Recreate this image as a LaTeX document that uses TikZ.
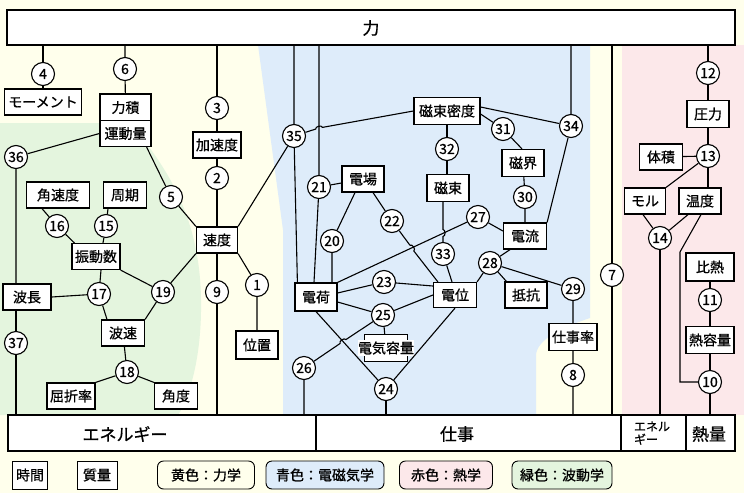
\documentclass[tikz,border=0pt]{standalone}
\usepackage{fontspec}
\setmainfont{Noto Sans CJK JP}[FakeBold=0.8]
\usetikzlibrary{calc}

\definecolor{bgyellow}{RGB}{255,255,236}
\definecolor{bggreen}{RGB}{228,245,222}
\definecolor{bgblue}{RGB}{222,236,250}
\definecolor{bgpink}{RGB}{252,232,234}

\begin{document}
\begin{tikzpicture}[x=1pt, y=1pt,
    box/.style={draw, line width=1.2pt, fill=white, inner sep=0pt, minimum height=26, font=\fontsize{14}{16}\selectfont},
    num/.style={draw, circle, line width=1.1pt, fill=white, inner sep=0pt, minimum size=23, font=\fontsize{14}{16}\selectfont},
    link/.style={line width=1.1pt},
    bar/.style={draw, line width=1.2pt, fill=white, inner sep=0pt, minimum height=36},
    bartext/.style={inner sep=0pt, font=\fontsize{17}{19}\selectfont},
    legend/.style={draw, line width=0.9pt, rounded corners=6, inner sep=0pt, minimum height=28, font=\fontsize{14}{16}\selectfont}]
    \useasboundingbox (0,0) rectangle (744,-493);

    % ==========================================
    % Background: coloured fields
    % ==========================================
    \fill[bgyellow] (0,0) rectangle (744,-493);
    \fill[bggreen] (0,-123) -- (130,-123) .. controls (165,-165) and (200,-215) .. (201,-300)
        .. controls (202,-360) and (188,-400) .. (178,-415) -- (0,-415) -- cycle;
    \fill[bgblue] (258,-45) -- (590,-45) -- (590,-318) .. controls (560,-328) and (537,-340) .. (536,-355)
        -- (536,-415) -- (283,-415) -- (283,-230) -- cycle;
    \fill[bgpink] (622,-45) rectangle (744,-415);

    % ==========================================
    % Top and bottom bars
    % ==========================================
    \node[bar, minimum width=728, minimum height=35] (top) at (371,-27.5) {};
    \node[bartext] (toplabel) at (371,-28) {力};

    \node[bar, minimum width=308] (e1) at (162,-433) {};
    \node[bar, minimum width=305] (work) at (468.5,-433) {};
    \node[bar, minimum width=65] (e2) at (653.5,-433) {};
    \node[bar, minimum width=49] (heat) at (710.5,-433) {};
    \node[bartext] (e1label) at (125,-434) {エネルギー};
    \node[bartext] (worklabel) at (457,-434) {仕事};
    \node[inner sep=0pt, align=left, font=\fontsize{12}{13}\selectfont] (e2label) at (652,-433) {エネル\\ギー};
    \node[bartext] (heatlabel) at (709,-434) {熱量};

    % ==========================================
    % Mechanics / waves (left)
    % ==========================================
    \node[box, minimum width=77] (moment) at (43,-102) {モーメント};
    \node[box, minimum width=51, minimum height=27] (rikiseki) at (125.5,-107.5) {力積};
    \node[box, minimum width=51] (undou) at (125.5,-133.5) {運動量};
    \node[box, minimum width=48] (kasokudo) at (217,-145) {加速度};
    \node[box, minimum width=41] (sokudo) at (217,-240) {速度};
    \node[box, minimum width=63] (kakusoku) at (58,-195) {角速度};
    \node[box, minimum width=43] (shuki) at (125,-195) {周期};
    \node[box, minimum width=48] (shindou) at (96,-256.5) {振動数};
    \node[box, minimum width=48] (hachou) at (27,-297) {波長};
    \node[box, minimum width=43] (hasoku) at (123,-333) {波速};
    \node[box, minimum width=48] (kussetsu) at (71,-396) {屈折率};
    \node[box, minimum width=43] (kakudo) at (176,-396) {角度};
    \node[box, minimum width=42, minimum height=28] (ichi) at (257,-345) {位置};

    \node[num] (n4) at (43,-74) {4};
    \node[num] (n6) at (125,-69) {6};
    \node[num] (n3) at (217,-108) {3};
    \node[num] (n2) at (217,-178) {2};
    \node[num] (n5) at (171,-197) {5};
    \node[num] (n36) at (16,-157) {36};
    \node[num] (n16) at (57,-226) {16};
    \node[num] (n15) at (106,-226) {15};
    \node[num] (n17) at (99,-294) {17};
    \node[num] (n19) at (163,-292) {19};
    \node[num] (n18) at (127,-372) {18};
    \node[num] (n37) at (16,-343) {37};
    \node[num] (n9) at (217,-292) {9};
    \node[num] (n1) at (257,-285) {1};

    \draw[link] (n4 |- top.south) -- (n4) -- (moment);
    \draw[link] (n6 |- top.south) -- (n6) -- (rikiseki);
    \draw[link] (n3 |- top.south) -- (n3) -- (kasokudo) -- (n2) -- (sokudo);
    \draw[link] ([xshift=-5]undou.south east) -- (n5) -- (sokudo.north west);
    \draw[link] (undou.west) -- (n36) -- (n36 |- hachou.north);
    \draw[link] (n36 |- hachou.south) -- (n37) -- (n37 |- e1.north);
    \draw[link] ([xshift=-16]kakusoku.south) -- (n16) -- ([xshift=3]shindou.north west);
    \draw[link] ([xshift=-17]shuki.south) -- (n15) -- ([xshift=7]shindou.north);
    \draw[link] (hachou.east) -- (n17) -- ([xshift=-16]hasoku.north);
    \draw[link] ([xshift=5]shindou.south) -- (n17);
    \draw[link] (shindou.south east) -- (n19) -- (sokudo.south west);
    \draw[link] (hasoku.north east) -- (n19);
    \draw[link] (hasoku) -- (n18);
    \draw[link] (kussetsu.north east) -- (n18) -- (kakudo.north west);
    \draw[link] (sokudo) -- (n9) -- (n9 |- e1.north);
    \draw[link] (sokudo.south east) -- (n1) -- (ichi);

    % ==========================================
    % Electromagnetism (middle)
    % ==========================================
    \node[box, minimum width=42] (denba) at (363,-179) {電場};
    \node[box, minimum width=66, minimum height=27] (jisokumitsudo) at (447,-111) {磁束密度};
    \node[box, minimum width=42, minimum height=27] (jisoku) at (448,-188) {磁束};
    \node[box, minimum width=42, minimum height=27] (jikai) at (523,-163) {磁界};
    \node[box, minimum width=43] (denryu) at (525,-236) {電流};
    \node[box, minimum width=43, minimum height=25] (den_i) at (455,-295) {電位};
    \node[box, minimum width=42] (teikou) at (526,-295) {抵抗};
    \node[box, minimum width=48, minimum height=27] (shigotoritsu) at (573,-337) {仕事率};
    \node[box, minimum width=42, minimum height=28] (denka) at (316,-297) {電荷};
    \node[box, minimum width=43, minimum height=27] (denkiyouryou) at (386,-348) {};
    \node[fill=white, inner xsep=0pt, inner ysep=1pt, font=\fontsize{14}{16}\selectfont] (denkiyouryoulabel) at (denkiyouryou) {電気容量};

    \node[num] (n35) at (294,-136) {35};
    \node[num] (n21) at (319,-187) {21};
    \node[num] (n20) at (332,-241) {20};
    \node[num] (n22) at (392,-221) {22};
    \node[num] (n32) at (447,-149) {32};
    \node[num] (n31) at (503,-129) {31};
    \node[num] (n34) at (571,-126) {34};
    \node[num] (n30) at (525,-197) {30};
    \node[num] (n27) at (478,-217) {27};
    \node[num] (n33) at (443,-254) {33};
    \node[num] (n28) at (490,-263) {28};
    \node[num] (n29) at (573,-289) {29};
    \node[num] (n8) at (573,-375) {8};
    \node[num] (n23) at (384,-282) {23};
    \node[num] (n25) at (383,-315) {25};
    \node[num] (n24) at (386,-389) {24};
    \node[num] (n26) at (304,-368) {26};
    \node[num] (n7) at (612,-275) {7};

    % crossing points (line hops)
    \coordinate (x1) at (319,-128);
    \coordinate (x2) at (412,-248);
    \coordinate (x3) at (443,-233);
    \coordinate (x4) at (343,-341.5);

    \draw[link] (n35 |- top.south) -- (n35) -- ([xshift=3]denka.north west);
    \draw[link] (n35) -- (sokudo.north east);
    \draw[link] (n35) -- ($(x1)!3.5pt!(n35)$) to[bend left=90] ($(x1)!3.5pt!(jisokumitsudo.west)$) -- (jisokumitsudo.west);
    \draw[link] (n21 |- top.south) -- (n21) -- ([xshift=-2]denka.north);
    \draw[link] (n21) -- ([yshift=-4]denba.west);
    \draw[link] ([xshift=-8]denba.south) -- (n20) -- (n20 |- denka.north);
    \draw[link] ([xshift=10]denba.south) -- (n22) -- ($(x2)!3.5pt!(n22)$) to[bend left=90]
        ($(x2)!3.5pt!(den_i.north west)$) -- ([xshift=5]den_i.north west);
    \draw[link] (denka.north east) -- (n27) -- ([yshift=5]denryu.west);
    \draw[link] (jisokumitsudo.south -| n32) -- (n32) -- (jisoku.north -| n32);
    \draw[link] (jisoku.south -| x3) -- ($(x3)+(0,3.5)$) to[bend left=90] ($(x3)+(0,-3.5)$) -- (n33) -- ([xshift=-3]den_i.north);
    \draw[link] ([yshift=4]jisokumitsudo.east) -- (n34);
    \draw[link] (n34 |- top.south) -- (n34) -- (denryu.north east);
    \draw[link] ([yshift=-3]jisokumitsudo.east) -- (n31) -- ([xshift=-1]jikai.north);
    \draw[link] (jikai) -- (n30) -- (denryu);
    \draw[link] ([xshift=-15]denryu.south) -- (n28) -- (den_i.north east);
    \draw[link] (n28) -- ([xshift=2]teikou.north west);
    \draw[link] (n28) -- (n29) -- (shigotoritsu) -- (n8) -- (n8 |- work.north);
    \draw[link] ([yshift=4]denka.east) -- (n23) -- ([yshift=9]den_i.west);
    \draw[link] ([yshift=-5]denka.east) -- (n25) -- (den_i.west);
    \draw[link] (n25) -- (denkiyouryou);
    \draw[link] (denka.south) -- (n24) -- (den_i.south);
    \draw[link] (n24) -- (n24 |- work.north);
    \draw[link] (n26 |- e1.north) -- (n26) -- ($(x4)!3.5pt!(n26)$) to[bend left=90] ($(x4)!3.5pt!(n25)$) -- (n25);
    \draw[link] (n7 |- top.south) -- (n7) -- (n7 |- work.north);

    % ==========================================
    % Thermodynamics (right)
    % ==========================================
    \node[box, minimum width=42, minimum height=27] (atsuryoku) at (708,-114) {圧力};
    \node[box, minimum width=43] (taiseki) at (661,-157) {体積};
    \node[box, minimum width=41] (moru) at (645,-201) {モル};
    \node[box, minimum width=42] (ondo) at (700,-201) {温度};
    \node[box, minimum width=48, minimum height=28] (hinetsu) at (710,-267) {比熱};
    \node[box, minimum width=48, minimum height=27] (netsuyouryou) at (710,-340) {熱容量};

    \node[num] (n12) at (708,-73) {12};
    \node[num] (n13) at (708,-156) {13};
    \node[num] (n14) at (660,-238) {14};
    \node[num] (n11) at (710,-300) {11};
    \node[num] (n10) at (710,-382) {10};
    \coordinate (bend) at (680,-252);

    \draw[link] (n12 |- top.south) -- (n12) -- (atsuryoku) -- (n13) -- (ondo.north -| n13);
    \draw[link] (taiseki) -- (n13);
    \draw[link] (n13) -- (moru.north east);
    \draw[link] ([xshift=-2]moru.south) -- (n14);
    \draw[link] ([xshift=-12]ondo.south) -- (n14);
    \draw[link] ([xshift=1]ondo.south) -- (bend) |- (n10);
    \draw[link] (n14) -- (n14 |- e2.north);
    \draw[link] (hinetsu) -- (n11) -- (netsuyouryou) -- (n10) -- (n10 |- heat.north);

    % ==========================================
    % Legend
    % ==========================================
    \node[box, minimum width=35, minimum height=28, line width=1pt] (jikan) at (30,-475) {時間};
    \node[box, minimum width=40, minimum height=28, line width=1pt] (shitsuryou) at (97,-475) {質量};
    \node[legend, fill=bgyellow, minimum width=97] (legmech) at (206,-475) {黄色：力学};
    \node[legend, fill=bgblue, minimum width=118] (legem) at (325,-475) {青色：電磁気学};
    \node[legend, fill=bgpink, minimum width=93] (legheat) at (446,-475) {赤色：熱学};
    \node[legend, fill=bggreen, minimum width=100] (legwave) at (562,-475) {緑色：波動学};
\end{tikzpicture}
\end{document}
